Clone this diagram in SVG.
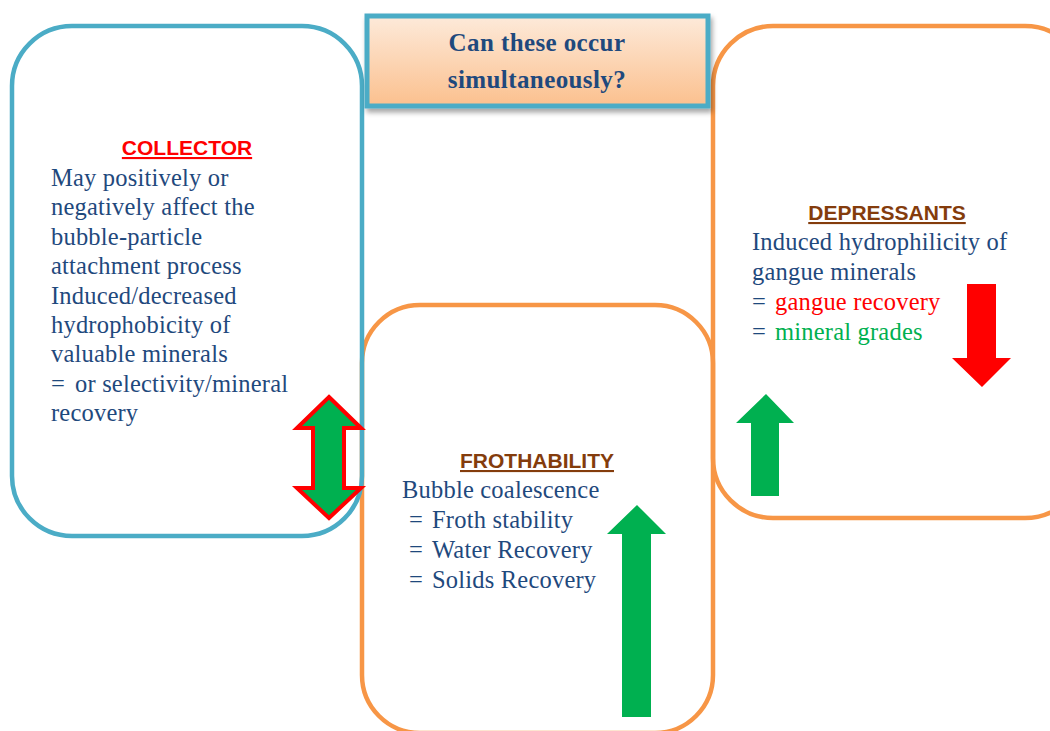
<svg xmlns="http://www.w3.org/2000/svg" width="1050" height="731" viewBox="0 0 1050 731">
<defs>
<linearGradient id="tg" x1="0" y1="0" x2="0" y2="1">
<stop offset="0" stop-color="#FDEADA"/>
<stop offset="1" stop-color="#FBC08E"/>
</linearGradient>
<filter id="sh" x="-10%" y="-10%" width="130%" height="140%">
<feDropShadow dx="2" dy="4" stdDeviation="2.5" flood-color="#000" flood-opacity="0.35"/>
</filter>
<style>
.box{fill:none;stroke-width:4.5}
.blue{stroke:#4BACC6}
.orange{stroke:#F79646}
.body{font-family:"Liberation Serif",serif;font-size:24.5px;letter-spacing:0.2px;fill:#1F497D}
.head{font-family:"Liberation Sans",sans-serif;font-size:21px;font-weight:bold;text-decoration:underline;text-anchor:middle}
.title{font-family:"Liberation Serif",serif;font-size:25px;font-weight:bold;letter-spacing:0.4px;fill:#1F497D;text-anchor:middle}
.green{fill:#00B050}
.red{fill:#FF0000}
</style>
</defs>
<rect width="1050" height="731" fill="#fff"/>

<g id="frothability">
<rect class="box orange" x="362" y="305" width="351" height="428" rx="58"/>
<text class="head" x="537" y="468" fill="#843C0C">FROTHABILITY</text>
<text class="body"><tspan x="402" y="498">Bubble coalescence</tspan><tspan x="409" y="528">=</tspan><tspan x="432" y="528">Froth stability</tspan><tspan x="409" y="558">=</tspan><tspan x="432" y="558">Water Recovery</tspan><tspan x="409" y="588">=</tspan><tspan x="432" y="588">Solids Recovery</tspan></text>
<polygon class="green" points="637,505 666,534 651,534 651,717 622,717 622,534 607,534"/>
</g>

<g id="depressants">
<rect class="box orange" x="713" y="26" width="372" height="492" rx="60"/>
<text class="head" x="887" y="220" fill="#843C0C">DEPRESSANTS</text>
<text class="body"><tspan x="752" y="250">Induced hydrophilicity of</tspan><tspan x="752" y="280">gangue minerals</tspan><tspan x="752" y="310">=</tspan><tspan x="775" y="310" fill="#FF0000">gangue recovery</tspan><tspan x="752" y="340">=</tspan><tspan x="775" y="340" fill="#00B050">mineral grades</tspan></text>
<polygon class="red" points="967,284 996,284 996,358 1011,358 982,387 952,358 967,358"/>
<polygon class="green" points="766,394 794,423 779,423 779,496 751,496 751,423 736,423"/>
</g>

<g id="collector">
<rect class="box blue" x="12" y="26" width="350" height="510" rx="60"/>
<text class="head" x="187" y="155" fill="#FF0000">COLLECTOR</text>
<text class="body"><tspan x="51" y="186">May positively or</tspan><tspan x="51" y="215">negatively affect the</tspan><tspan x="51" y="245">bubble-particle</tspan><tspan x="51" y="274">attachment process</tspan><tspan x="51" y="304">Induced/decreased</tspan><tspan x="51" y="333">hydrophobicity of</tspan><tspan x="51" y="362">valuable minerals</tspan><tspan x="51" y="392">=</tspan><tspan x="75" y="392">or selectivity/mineral</tspan><tspan x="51" y="421">recovery</tspan></text>
<polygon points="329,397 361,428 344,428 344,488 361,488 329,518 297,488 313,488 313,428 297,428" fill="#00B050" stroke="#FF0000" stroke-width="4" stroke-linejoin="miter"/>
</g>

<g id="question">
<rect x="367" y="16" width="341" height="90" fill="url(#tg)" stroke="#4BACC6" stroke-width="5" filter="url(#sh)"/>
<text class="title" x="537" y="51">Can these occur</text>
<text class="title" x="537" y="88">simultaneously?</text>
</g>

<g id="connectors"/>
</svg>
